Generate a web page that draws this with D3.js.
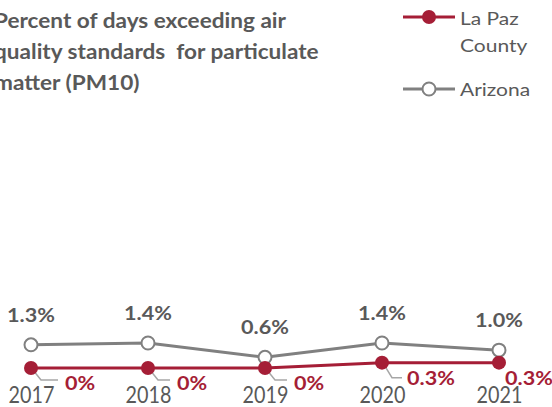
<!DOCTYPE html>
<meta charset="utf-8">
<script src="https://d3js.org/d3.v7.min.js"></script>
<style>
  body { margin: 0; background: #fff; }
  text { font-family: Lato, "Open Sans", sans-serif; }
</style>
<body>
<div id="chart"></div>
<script>
var years = ["2017", "2018", "2019", "2020", "2021"]
var laPaz = [0, 0, 0, 0.3, 0.3]
var arizona = [1.3, 1.4, 0.6, 1.4, 1.0]
var laPazLabels = ["0%", "0%", "0%", "0.3%", "0.3%"]
var arizonaLabels = ["1.3%", "1.4%", "0.6%", "1.4%", "1.0%"]
var titleLines = ["Percent of days exceeding air", "quality standards  for particulate", "matter (PM10)"]

var width = 552, height = 407
var red = "#A51E36", grey = "#808080", textGrey = "#595959"

var svg = d3.select("#chart").append("svg")
  .attr("width", width).attr("height", height)

var x = d3.scalePoint().domain(years).range([31, 499])
var y = d3.scaleLinear().domain([0, 1.4]).range([368, 343])

// the original text is a bit stretched sideways
function place(px, py, sx) {
  return "translate(" + px + "," + py + ") scale(" + sx + ",1)"
}

// title
svg.append("g").selectAll("text")
  .data(titleLines)
  .join("text")
  .attr("transform", function(d, i) { return place(-6, 28 + i * 31, 1.13) })
  .style("font-size", "20px")
  .style("font-weight", 700)
  .attr("fill", textGrey)
  .style("white-space", "pre")
  .text(function(d) { return d })

// year axis
var axis = svg.append("g")
  .attr("transform", "translate(0,384)")
  .call(d3.axisBottom(x).tickSize(0).tickPadding(0))
axis.select(".domain").remove()
axis.selectAll("text")
  .attr("dy", 0).attr("y", null)
  .attr("transform", place(0, 19, 0.86))
  .style("font-family", "Lato, sans-serif")
  .style("font-size", "23px")
  .attr("fill", textGrey)

var line = d3.line()
  .x(function(d, i) { return x(years[i]) })
  .y(function(d) { return y(d) })

// Arizona
svg.append("path")
  .datum(arizona)
  .attr("d", line)
  .attr("fill", "none")
  .attr("stroke", grey)
  .attr("stroke-width", 3)

// leader lines for La Paz labels
var leaderEnd = [27, 22, 22, 20]
var leaderDrop = [12, 12, 12, 15]
svg.append("g").selectAll("path")
  .data(laPaz.slice(0, 4))
  .join("path")
  .attr("d", function(d, i) {
    var px = x(years[i]), py = y(d)
    return "M" + (px + 2) + "," + (py + 2) + "L" + (px + 10) + "," + (py + leaderDrop[i]) + "L" + (px + leaderEnd[i]) + "," + (py + leaderDrop[i])
  })
  .attr("fill", "none")
  .attr("stroke", "#A6A6A6")
  .attr("stroke-width", 1.5)

// La Paz
svg.append("path")
  .datum(laPaz)
  .attr("d", line)
  .attr("fill", "none")
  .attr("stroke", red)
  .attr("stroke-width", 3)

svg.append("g").selectAll("circle")
  .data(arizona)
  .join("circle")
  .attr("cx", function(d, i) { return x(years[i]) })
  .attr("cy", function(d) { return y(d) })
  .attr("r", 6.5)
  .attr("fill", "#fff")
  .attr("stroke", grey)
  .attr("stroke-width", 2)

svg.append("g").selectAll("circle")
  .data(laPaz)
  .join("circle")
  .attr("cx", function(d, i) { return x(years[i]) })
  .attr("cy", function(d) { return y(d) })
  .attr("r", 7)
  .attr("fill", red)

// labels
svg.append("g").selectAll("text")
  .data(arizona)
  .join("text")
  .attr("transform", function(d, i) { return place(x(years[i]), y(d) - 23, 1.2) })
  .attr("text-anchor", "middle")
  .style("font-size", "18px")
  .style("font-weight", 700)
  .attr("fill", textGrey)
  .text(function(d, i) { return arizonaLabels[i] })

var labelDx = [34, 29, 29, 25, 6]
svg.append("g").selectAll("text")
  .data(laPaz)
  .join("text")
  .attr("transform", function(d, i) { return place(x(years[i]) + labelDx[i], y(d) + 22, 1.2) })
  .style("font-size", "18px")
  .style("font-weight", 700)
  .attr("fill", red)
  .text(function(d, i) { return laPazLabels[i] })

// legend
var legend = svg.append("g")
legend.append("line").attr("x1", 403).attr("x2", 455).attr("y1", 17).attr("y2", 17)
  .attr("stroke", red).attr("stroke-width", 3)
legend.append("circle").attr("cx", 429).attr("cy", 17).attr("r", 7).attr("fill", red)
legend.append("line").attr("x1", 403).attr("x2", 455).attr("y1", 89).attr("y2", 89)
  .attr("stroke", grey).attr("stroke-width", 3)
legend.append("circle").attr("cx", 429).attr("cy", 89).attr("r", 6.5)
  .attr("fill", "#fff").attr("stroke", grey).attr("stroke-width", 2)
legend.selectAll("text.lg")
  .data([["La Paz", 25], ["County", 52], ["Arizona", 96]])
  .join("text")
  .attr("transform", function(d) { return place(460, d[1], 1.2) })
  .style("font-size", "17.5px")
  .attr("fill", textGrey)
  .text(function(d) { return d[0] })
</script>
</body>
